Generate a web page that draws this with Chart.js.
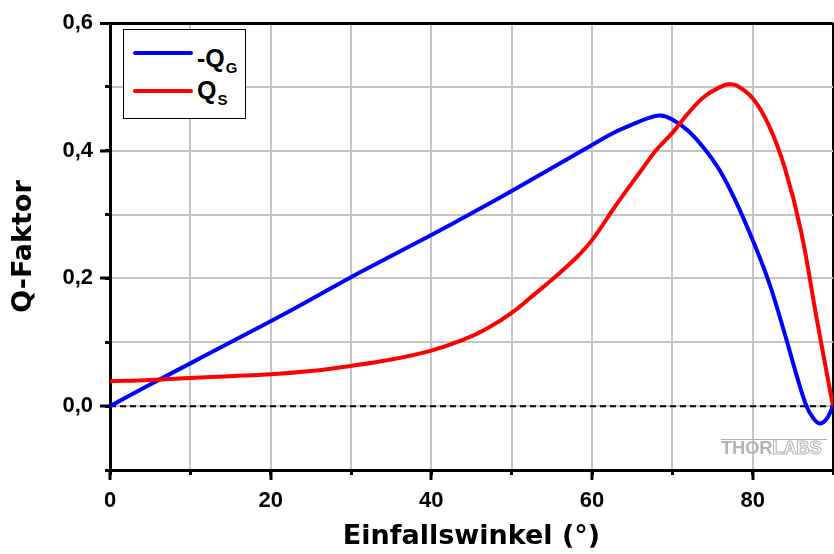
<!DOCTYPE html>
<html>
<head>
<meta charset="utf-8">
<script src="https://cdn.jsdelivr.net/npm/chart.js@4/dist/chart.umd.min.js"></script>
<style>
  html, body { margin: 0; padding: 0; background: #fff; }
  #wrap { position: relative; width: 834px; height: 554px; background: #fff; font-family: "Liberation Sans", Arial, sans-serif; }
  #c { position: absolute; left: 0; top: 0; }
  #legend { position: absolute; left: 123px; top: 29px; width: 121px; height: 88px; border: 1.5px solid #000; background: #fff; }
  .sw { position: absolute; height: 4px; width: 60px; border-radius: 2px; }
  .lt { position: absolute; font-weight: bold; font-size: 25px; line-height: 25px; color: #000; white-space: nowrap; }
  .lt sub { font-size: 15px; vertical-align: -6px; line-height: 0; margin-left: 1px; }
  #wm { position: absolute; left: 721px; top: 439px; width: 106px; border-top: 1px solid #b0b0b0; }
  #wmt { position: absolute; left: 721px; top: 438px; font-weight: bold; font-size: 18.5px; line-height: 20px; white-space: nowrap; letter-spacing: -0.3px; }
  #wmt .a { color: #b4b4b4; }
  #wmt .b { color: #fff; -webkit-text-stroke: 1px #b4b4b4; }
</style>
</head>
<body>
<div id="wrap">
  <canvas id="c" width="834" height="554"></canvas>
  <div id="legend"></div>
  <div id="wm"></div>
  <div id="wmt"><span class="a">THOR</span><span class="b">LABS</span></div>
</div>
<script>
// ---- data ----
const angleG = [0, 5, 10, 15, 20, 25, 30, 35, 40, 45, 50, 55, 60, 63, 65, 67, 68.5, 70, 72, 74, 76, 78, 80, 82, 84, 85.5, 86.7, 87.5, 88.3, 89.2, 90];
const negQG  = [0, 0.034, 0.067, 0.100, 0.133, 0.167, 0.202, 0.235, 0.268, 0.302, 0.337, 0.373, 0.409, 0.430, 0.441, 0.451, 0.455, 0.449, 0.431, 0.403, 0.367, 0.318, 0.260, 0.195, 0.113, 0.047, 0.0, -0.018, -0.027, -0.020, 0];
const angleS = [0, 5, 10, 15, 20, 25, 30, 35, 40, 44, 47, 50, 53, 55, 58, 60, 63, 66, 68, 70, 72, 74, 76, 77, 78, 80, 82, 84, 86, 88, 90];
const QS     = [0.039, 0.041, 0.044, 0.047, 0.050, 0.055, 0.063, 0.073, 0.087, 0.104, 0.122, 0.146, 0.177, 0.198, 0.232, 0.260, 0.315, 0.367, 0.401, 0.428, 0.459, 0.485, 0.500, 0.504, 0.502, 0.482, 0.440, 0.373, 0.275, 0.135, 0.0];
const zeroAngles = [0, 90];
const zeroValues = [0, 0];
const legendMain = ['-Q', 'Q'];
const legendSub  = ['G', 'S'];
const xTickLabels = ['0', '20', '40', '60', '80'];
const yTickLabels = ['0,0', '0,2', '0,4', '0,6'];
const xTitle = 'Einfallswinkel (°)';
const yTitle = 'Q-Faktor';

const FONT = '"Liberation Sans", Arial, sans-serif';
const TFONT = '"DejaVu Sans", "Liberation Sans", sans-serif';
const pts = (xs, ys) => xs.map((x, i) => ({x: x, y: ys[i]}));
const near = (a, b) => Math.abs(a - b) < 1e-6;
const yMajorIdx = v => yTickLabels.findIndex(l => near(parseFloat(l.replace(',', '.')), v));
const isMajorX = v => xTickLabels.includes(String(Math.round(v)));

const chart = new Chart(document.getElementById('c'), {
  type: 'line',
  data: {
    datasets: [
      { label: legendMain[0] + legendSub[0], data: pts(angleG, negQG), borderColor: '#0000ff', borderWidth: 4, pointRadius: 0, tension: 0.4, fill: false, order: 1 },
      { label: legendMain[1] + legendSub[1], data: pts(angleS, QS), borderColor: '#ff0000', borderWidth: 4, pointRadius: 0, tension: 0.4, fill: false, order: 0 },
      { label: '', data: pts(zeroAngles, zeroValues), borderColor: '#000', borderWidth: 2, borderDash: [6, 4], pointRadius: 0, tension: 0, fill: false, order: 2 }
    ]
  },
  options: {
    responsive: false,
    animation: false,
    layout: { padding: { top: 23, right: 1, left: 0, bottom: 0 } },
    plugins: { legend: { display: false }, tooltip: { enabled: false } },
    scales: {
      x: {
        type: 'linear', min: 0, max: 90, weight: 0,
        ticks: {
          stepSize: 10, autoSkip: false, maxRotation: 0, padding: 8, color: '#000',
          font: { family: FONT, size: 22, weight: 'bold' },
          callback: v => isMajorX(v) ? String(Math.round(v)) : ''
        },
        grid: {
          color: c => near(c.tick.value, 90) ? '#000' : '#c4c4c4',
          lineWidth: c => near(c.tick.value, 90) ? 3 : 2,
          tickColor: c => isMajorX(c.tick.value) ? '#000' : 'rgba(0,0,0,0)',
          tickLength: 10, tickWidth: 3
        },
        border: { color: '#000', width: 3 },
        title: { display: true, text: xTitle, color: '#000', font: { family: TFONT, size: 27, weight: 'bold' }, padding: { top: 0, bottom: 1 } },
        afterFit: s => { s.height = 84; s.paddingLeft = 0; s.paddingRight = 0; }
      },
      xMinor: {
        type: 'linear', position: 'bottom', min: 0, max: 90, weight: -1,
        ticks: { display: false, stepSize: 10, autoSkip: false },
        grid: { drawOnChartArea: false, tickColor: '#000', tickLength: 5, tickWidth: 3 },
        border: { display: false },
        afterFit: s => { s.height = 0; s.paddingLeft = 0; s.paddingRight = 0; }
      },
      y: {
        type: 'linear', min: -0.1, max: 0.6, weight: 0,
        ticks: {
          stepSize: 0.1, autoSkip: false, padding: 7, color: '#000',
          font: { family: FONT, size: 22, weight: 'bold' },
          callback: v => { const i = yMajorIdx(v); return i >= 0 ? yTickLabels[i] : ''; }
        },
        grid: {
          color: c => near(c.tick.value, 0.6) ? '#000' : '#c4c4c4',
          lineWidth: c => near(c.tick.value, 0.6) ? 3 : 2,
          tickColor: c => yMajorIdx(c.tick.value) >= 0 ? '#000' : 'rgba(0,0,0,0)',
          tickLength: 10, tickWidth: 3
        },
        border: { color: '#000', width: 3 },
        title: { display: true, text: yTitle, color: '#000', font: { family: TFONT, size: 27, weight: 'bold' }, padding: { top: 8, bottom: 0 } },
        afterFit: s => { s.width = 110; s.paddingTop = 0; s.paddingBottom = 0; }
      },
      yMinor: {
        type: 'linear', position: 'left', min: -0.1, max: 0.6, weight: -1,
        ticks: { display: false, stepSize: 0.1, autoSkip: false },
        grid: { drawOnChartArea: false, tickColor: '#000', tickLength: 5, tickWidth: 3 },
        border: { display: false },
        afterFit: s => { s.width = 0; s.paddingTop = 0; s.paddingBottom = 0; }
      }
    }
  }
});

// HTML legend built from the datasets
const leg = document.getElementById('legend');
const swTop = [21, 59];
const txTop = [16, 48];
chart.data.datasets.filter(d => d.label).forEach((d, i) => {
  const sw = document.createElement('div');
  sw.className = 'sw';
  sw.style.left = '9px';
  sw.style.top = swTop[i] + 'px';
  sw.style.background = d.borderColor;
  leg.appendChild(sw);
  const t = document.createElement('div');
  t.className = 'lt';
  t.style.left = '73px';
  t.style.top = txTop[i] + 'px';
  t.appendChild(document.createTextNode(legendMain[i]));
  const sb = document.createElement('sub');
  sb.textContent = legendSub[i];
  t.appendChild(sb);
  leg.appendChild(t);
});
</script>
</body>
</html>
